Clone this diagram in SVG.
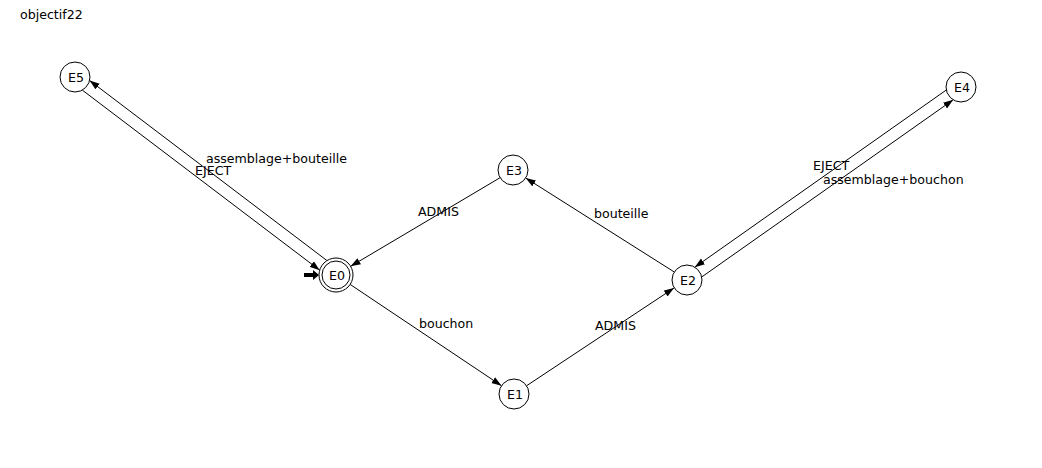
<svg xmlns="http://www.w3.org/2000/svg" width="1042" height="468" viewBox="0 0 1042 468">
<style>
text{font-family:"DejaVu Sans","Liberation Sans",sans-serif;font-size:12.6px;fill:#000}
.st{fill:#fff;stroke:#000;stroke-width:1}
.lbl{text-anchor:middle}
.edge{stroke:#000;stroke-width:1;fill:none;marker-end:url(#ah)}
</style>
<defs>
<marker id="ah" markerUnits="userSpaceOnUse" markerWidth="11" markerHeight="8" refX="10" refY="4" orient="auto">
<path d="M0,0.5 L10,4 L0,7.5 Z" fill="#000"/>
</marker>
</defs>
<rect width="1042" height="468" fill="#fff"/>
<text x="20" y="19">objectif22</text>
<g id="connectors">
<line class="edge" x1="82.3" y1="90.1" x2="319.7" y2="270.2"/>
<line class="edge" x1="327" y1="260.6" x2="89.6" y2="80.5"/>
<line class="edge" x1="500.1" y1="177.7" x2="350.6" y2="266.3"/>
<line class="edge" x1="350.1" y1="284.4" x2="501.5" y2="385.7"/>
<line class="edge" x1="526.5" y1="385.8" x2="674" y2="288"/>
<line class="edge" x1="674.3" y1="272" x2="525.7" y2="178"/>
<line class="edge" x1="946.3" y1="90" x2="694.8" y2="267.2"/>
<line class="edge" x1="701.7" y1="277" x2="953.2" y2="99.8"/>
<path d="M304,273 L313,273 L313,270 L319,275 L313,280 L313,277 L304,277 Z" fill="#000"/>
<text x="206" y="163">assemblage+bouteille</text>
<text x="195" y="175">EJECT</text>
<text x="418" y="216">ADMIS</text>
<text x="594" y="218">bouteille</text>
<text x="419" y="328">bouchon</text>
<text x="595" y="330">ADMIS</text>
<text x="813" y="170">EJECT</text>
<text x="823" y="184">assemblage+bouchon</text>
</g>
<g id="E0">
<circle class="st" cx="336" cy="275" r="17"/>
<circle class="st" cx="336" cy="275" r="14"/>
<text class="lbl" x="337" y="279.5">E0</text>
</g>
<g id="E1">
<circle class="st" cx="514" cy="394" r="15"/>
<text class="lbl" x="515" y="398.5">E1</text>
</g>
<g id="E2">
<circle class="st" cx="687" cy="280" r="15"/>
<text class="lbl" x="688" y="284.5">E2</text>
</g>
<g id="E3">
<circle class="st" cx="513" cy="170" r="15"/>
<text class="lbl" x="514" y="174.5">E3</text>
</g>
<g id="E4">
<circle class="st" cx="961" cy="87" r="15"/>
<text class="lbl" x="962" y="91.5">E4</text>
</g>
<g id="E5">
<circle class="st" cx="75" cy="77" r="15"/>
<text class="lbl" x="76" y="81.5">E5</text>
</g>
</svg>
